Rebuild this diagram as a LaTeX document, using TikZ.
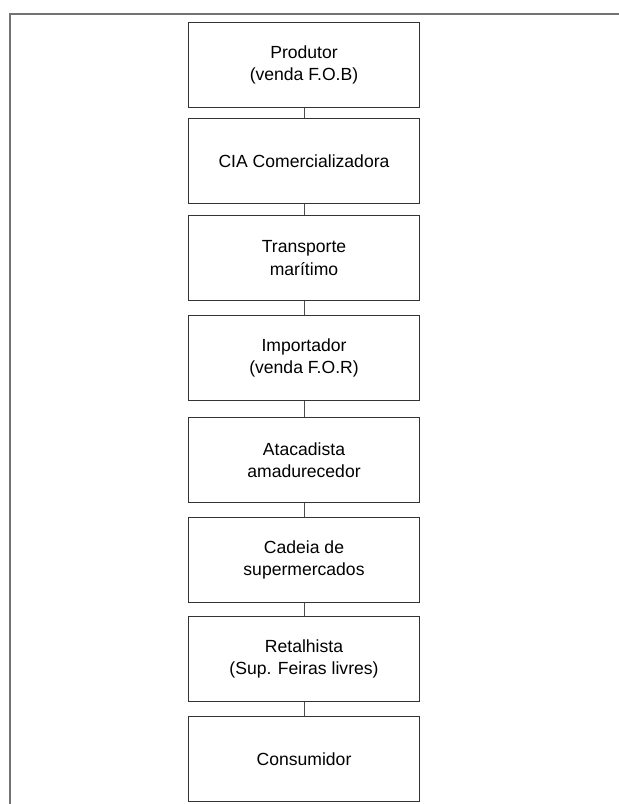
\documentclass[tikz,border=0pt]{standalone}
\usepackage{fontspec}
\setmainfont{Liberation Sans}
\usepackage{tikz}

\tikzset{
	etapa/.style={draw=black!80, line width=1.2pt, minimum width=6.93cm, minimum height=2.55cm,
		align=center, font=\fontsize{15}{19}\selectfont, text=black},
	liga/.style={draw=black!70, line width=0.7pt}
}

\begin{document}
\begin{tikzpicture}[x=0.03cm, y=-0.03cm]
			\useasboundingbox (0,0) rectangle (619,804);
			\draw [line width=1.6pt, black!55]  (10,804) -- (10,14) -- (619,14);
			\foreach \n/\y/\txt in {1/65/{Produtor\\(venda F.O.B)},
				2/161/{CIA Comercializadora},
				3/258/{Transporte\\marítimo},
				4/358/{Importador\\(venda F.O.R)},
				5/460/{Atacadista\\amadurecedor},
				6/560/{Cadeia de\\supermercados},
				7/659/{Retalhista\\(Sup. Feiras livres)},
				8/759/{Consumidor}}
			\node[etapa] (e\n) at (304,\y) {\txt};
			\foreach \a/\b in {1/2,2/3,3/4,4/5,5/6,6/7,7/8}
			\draw[liga] (e\a) -- (e\b);
		\end{tikzpicture}
\end{document}
